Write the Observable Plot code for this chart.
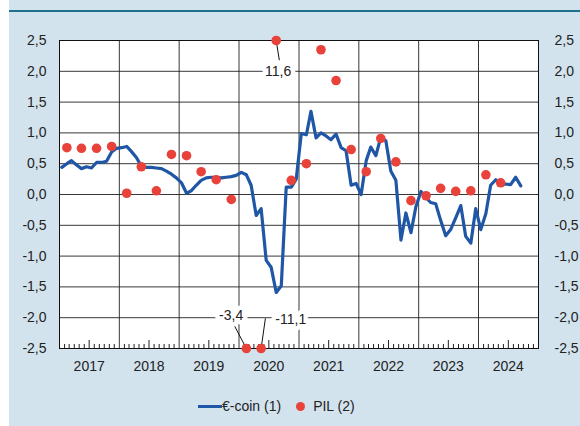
<!DOCTYPE html>
<html><head><meta charset="utf-8">
<script src="https://cdn.jsdelivr.net/npm/d3@7"></script>
<script src="https://cdn.jsdelivr.net/npm/@observablehq/plot@0.6"></script>
<style>
html,body{margin:0;padding:0;}
body{width:580px;height:426px;background:#d3e3ee;position:relative;overflow:hidden;font-family:"Liberation Sans",Arial,sans-serif;}
#strip{position:absolute;left:0;top:0;width:9px;height:426px;background:#ffffff;}
#topline{position:absolute;left:9px;top:10px;width:571px;height:2px;background:#1f6f8f;}
#chart{position:absolute;left:0;top:0;}
#legend{position:absolute;top:398px;left:198px;display:flex;align-items:center;font-size:14px;color:#222;white-space:nowrap;}
#legend .ln{display:inline-block;width:24px;height:3px;background:#1f56a5;}
#legend .dt{display:inline-block;width:9px;height:9px;border-radius:50%;background:#e8423b;margin:0 8px 0 15px;}
</style></head>
<body>
<div id="strip"></div>
<div id="topline"></div>
<div id="chart"></div>
<div id="legend"><span class="ln"></span><span>€-coin (1)</span><span class="dt"></span><span>PIL (2)</span></div>
<script>
// €-coin, monthly, from January 2017
const coinStart = [2017, 0];
const coinValues = [
  0.44, 0.50, 0.55, 0.48, 0.42, 0.45, 0.43, 0.52, 0.52, 0.54, 0.69, 0.75,
  0.76, 0.78, 0.70, 0.60, 0.46, 0.44, 0.44, 0.43, 0.42, 0.38, 0.33, 0.27,
  0.19, 0.02, 0.06, 0.15, 0.23, 0.27, 0.28, 0.28, 0.27, 0.28, 0.29, 0.31,
  0.36, 0.32, 0.15, -0.34, -0.23, -1.07, -1.18, -1.59, -1.48, 0.12, 0.12, 0.25,
  0.99, 0.97, 1.35, 0.92, 1.00, 0.95, 0.89, 0.98, 0.76, 0.71, 0.15, 0.18,
  0.00, 0.55, 0.77, 0.63, 0.93, 0.87, 0.38, 0.23, -0.74, -0.30, -0.62, -0.20,
  0.05, -0.05, -0.13, -0.15, -0.42, -0.67, -0.57, -0.38, -0.18, -0.68, -0.79, -0.23,
  -0.57, -0.31, 0.15, 0.24, 0.17, 0.17, 0.16, 0.28, 0.14
];
// PIL, quarterly, from 2017 Q1
const pilStart = 2017;
const pilValues = [
  0.76, 0.75, 0.75, 0.78,
  0.02, 0.45, 0.06, 0.65,
  0.63, 0.37, 0.24, -0.08,
  -3.4, -11.1, 11.6, 0.23,
  0.50, 2.35, 1.85, 0.73,
  0.37, 0.91, 0.53, -0.10,
  -0.02, 0.10, 0.05, 0.06,
  0.32, 0.19
];
const years = [2017, 2018, 2019, 2020, 2021, 2022, 2023, 2024];
const yTicks = [-2.5, -2.0, -1.5, -1.0, -0.5, 0.0, 0.5, 1.0, 1.5, 2.0, 2.5];
const yMin = -2.5, yMax = 2.5;
// out-of-range annotations: dot index, label anchor, leader end
const notes = [
  {i: 14, text: "11,6", lx: "2020-08-27", ly: 2.0, ex: "2020-09-03", ey: 2.18},
  {i: 12, text: "-3,4", lx: "2019-11-14", ly: -1.97, ex: "2019-11-26", ey: -2.09},
  {i: 13, text: "-11,1", lx: "2020-11-12", ly: -2.03, ex: "2020-06-10", ey: -2.01}
];

const U = (y, m, d) => new Date(Date.UTC(y, m, d));
const coin = coinValues.map((v, k) => ({date: U(coinStart[0], coinStart[1] + k, 15), value: v}));
const pil = pilValues.map((v, k) => ({date: U(pilStart, 3 * k + 1, 15), value: v}));
const clampV = v => Math.max(yMin, Math.min(yMax, v));
const noteData = notes.map(n => ({
  text: n.text,
  x1: pil[n.i].date, y1: clampV(pil[n.i].value),
  x2: new Date(n.ex + "T00:00:00Z"), y2: n.ey,
  lx: new Date(n.lx + "T00:00:00Z"), ly: n.ly
}));
const yearStarts = years.slice(1).map(y => U(y, 0, 1));
const midYears = years.map(y => U(y, 6, 1));
const monthStarts = d3.utcMonths(U(years[0], 0, 1), U(years[years.length - 1] + 1, 0, 1)).filter(d => d.getUTCMonth() !== 0 && d.getUTCMonth() !== 6);
const fmt = v => d3.format(".1f")(v).replace(".", ",").replace("−", "-");

const plot = Plot.plot({
  width: 580, height: 385,
  marginLeft: 59, marginRight: 42, marginTop: 40, marginBottom: 37,
  style: {background: "transparent", fontFamily: "'Liberation Sans', Arial, sans-serif", fontSize: "14px", color: "#222"},
  x: {type: "utc", domain: [U(years[0], 0, 1), U(years[years.length - 1] + 1, 0, 1)]},
  y: {domain: [yMin, yMax]},
  marks: [
    Plot.frame({fill: "white", stroke: null}),
    Plot.gridY(yTicks, {stroke: "#222", strokeOpacity: 0.9}),
    Plot.gridX(yearStarts, {stroke: "#222", strokeOpacity: 0.9}),
    Plot.ruleX(monthStarts, {insetTop: 304, stroke: "#222"}),
    Plot.ruleX(midYears, {insetTop: 300, stroke: "#222"}),
    Plot.frame({stroke: "#111"}),
    Plot.axisY(yTicks, {anchor: "left", tickSize: 0, tickPadding: 13, tickFormat: fmt, fontSize: 14, label: null}),
    Plot.axisY(yTicks, {anchor: "right", tickSize: 0, tickPadding: 16, tickFormat: fmt, fontSize: 14, label: null}),
    Plot.axisX(midYears, {anchor: "bottom", tickSize: 0, tickPadding: 13, tickFormat: d => String(d.getUTCFullYear()), fontSize: 14, label: null}),
    Plot.line(coin, {x: "date", y: "value", stroke: "#1f56a5", strokeWidth: 3.2, strokeLinejoin: "round"}),
    Plot.link(noteData, {x1: "x1", y1: "y1", x2: "x2", y2: "y2", stroke: "#111", strokeWidth: 1}),
    Plot.text(noteData, {x: "lx", y: "ly", text: "text", fill: "#222", stroke: "white", strokeWidth: 9, fontSize: 14}),
    Plot.dot(pil, {x: "date", y: d => clampV(d.value), r: 4.8, fill: "#e8423b", stroke: null})
  ]
});
document.getElementById("chart").appendChild(plot);
</script>
</body></html>
